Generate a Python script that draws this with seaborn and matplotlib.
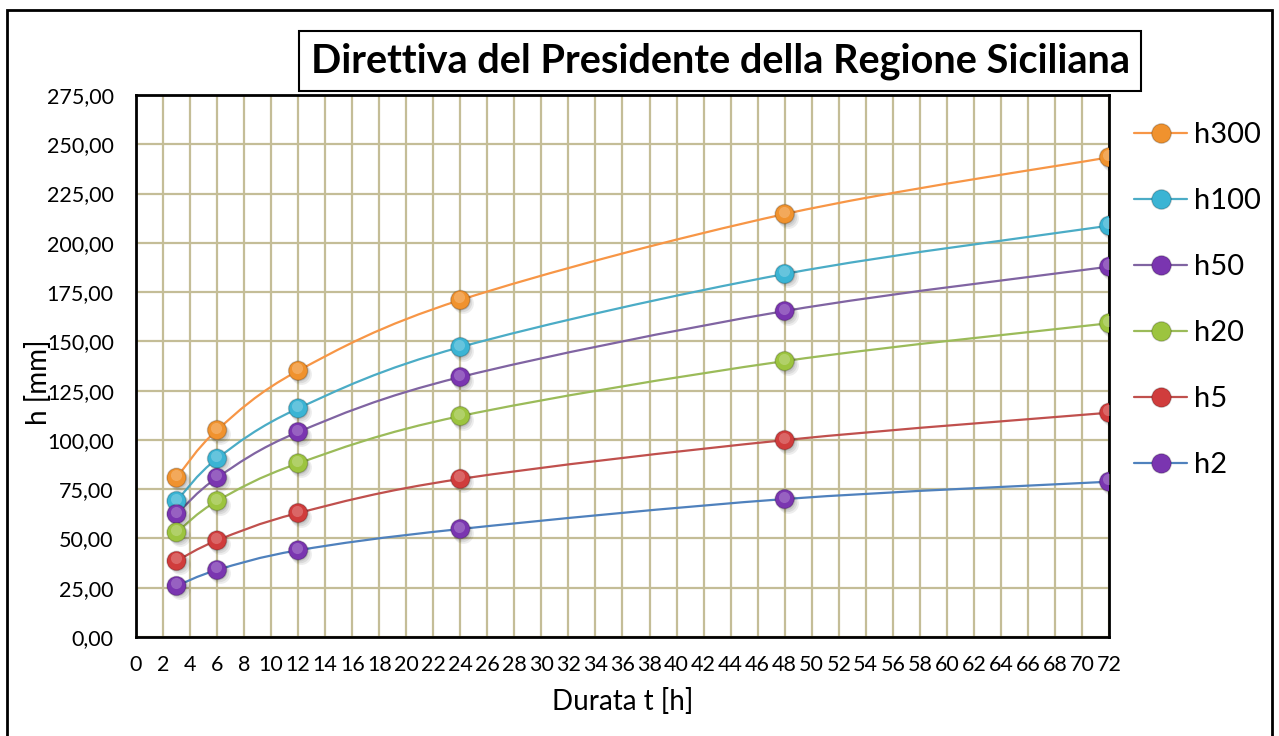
import numpy as np
import pandas as pd
import seaborn as sns
import matplotlib.pyplot as plt
from matplotlib.path import Path
from matplotlib.patches import PathPatch, Rectangle
from matplotlib.lines import Line2D
from matplotlib.ticker import FuncFormatter, MultipleLocator
from matplotlib.transforms import offset_copy

# durate [h] e altezze di pioggia [mm] per tempo di ritorno
durata = [3, 6, 12, 24, 48, 72]
h300 = [80.8, 105.0, 135.1, 171.0, 214.6, 243.4]
h100 = [69.0, 90.5, 116.0, 147.1, 184.2, 208.7]
h50 = [62.4, 80.8, 104.0, 131.9, 165.4, 187.9]
h20 = [53.1, 69.0, 88.1, 112.1, 140.0, 159.2]
h5 = [38.6, 49.0, 62.9, 80.2, 99.9, 113.8]
h2 = [25.9, 34.0, 44.0, 54.8, 70.0, 78.8]

serie = ['h300', 'h100', 'h50', 'h20', 'h5', 'h2']
valori = [h300, h100, h50, h20, h5, h2]
col_linea = ['#F79646', '#4BACC6', '#8064A2', '#9BBB59', '#C0504D', '#4F81BD']
col_marker = ['#F0922E', '#3BB4D4', '#7A35B0', '#9CC43F', '#D03C3C', '#7A35B0']

df = pd.DataFrame({'t': durata * len(serie),
                   'h': sum(valori, []),
                   'serie': [s for s in serie for _ in durata]})

sns.set_theme(style='white')
plt.rcParams['font.family'] = ['Lato', 'DejaVu Sans']
plt.rcParams['text.color'] = 'black'
plt.rcParams['axes.labelcolor'] = 'black'

fig = plt.figure(figsize=(12.79, 7.36), dpi=100)
ax = fig.add_axes([0.1063, 0.1345, 0.7608, 0.7364])

# linee smussate (stile Excel, bezier tipo Catmull-Rom)
def smooth_path(x, y):
    p = np.column_stack([x, y]).astype(float)
    verts = [p[0]]
    codes = [Path.MOVETO]
    n = len(p)
    for i in range(n - 1):
        p0 = p[i - 1] if i > 0 else p[i]
        p3 = p[i + 2] if i + 2 < n else p[i + 1]
        c1 = p[i] + (p[i + 1] - p0) / 6
        c2 = p[i + 1] - (p3 - p[i]) / 6
        verts += [c1, c2, p[i + 1]]
        codes += [Path.CURVE4] * 3
    return Path(verts, codes)

for s, v, cl in zip(serie, valori, col_linea):
    ax.add_patch(PathPatch(smooth_path(durata, v), facecolor='none',
                           edgecolor=cl, lw=1.6, zorder=3))

# marker "sfera": ombra sfumata, corpo, riflesso
for k, (dx, dy, a) in enumerate([(3, -3.5, 0.07), (2, -2.5, 0.08), (1, -1.5, 0.08)]):
    sh = offset_copy(ax.transData, fig=fig, x=dx, y=dy, units='dots')
    ax.plot(df['t'], df['h'], 'o', ms=15 - k, color='black', alpha=a, mec='none',
            transform=sh, zorder=4)
sns.scatterplot(data=df, x='t', y='h', hue='serie', hue_order=serie,
                palette=dict(zip(serie, col_marker)), s=190,
                edgecolor='#00000030', linewidth=1.0, legend=False,
                ax=ax, zorder=5)
glint = offset_copy(ax.transData, fig=fig, x=-1, y=2.5, units='dots')
ax.plot(df['t'], df['h'], 'o', ms=8, color='white', alpha=0.22, mec='none',
        transform=glint, zorder=6)

ax.set_xlim(0, 72)
ax.set_ylim(0, 275)
ax.xaxis.set_major_locator(MultipleLocator(2))
ax.yaxis.set_major_locator(MultipleLocator(25))
ax.yaxis.set_major_formatter(FuncFormatter(lambda v, p: f'{v:.2f}'.replace('.', ',')))
ax.grid(True, color='#C4BD97', lw=1.6)
ax.set_axisbelow(True)
for sp in ax.spines.values():
    sp.set_color('black')
    sp.set_linewidth(2)
ax.tick_params(axis='both', labelsize=15.5, length=0, colors='black')
ax.tick_params(axis='x', pad=13)
ax.tick_params(axis='y', pad=16)
ax.set_xlabel('Durata t [h]', fontsize=20, labelpad=9)
ax.set_ylabel('h [mm]', fontsize=20)
ax.yaxis.set_label_coords(-0.086, 0.47)

handles = [Line2D([0], [0], color=cl, lw=1.6, marker='o', ms=14,
                  mfc=cm, mec='#00000030') for cl, cm in zip(col_linea, col_marker)]
fig.legend(handles, serie, loc='upper left', bbox_to_anchor=(0.887, 0.834),
           frameon=False, fontsize=21, labelspacing=1.37, handlelength=1.8,
           handletextpad=0.25, borderpad=0, borderaxespad=0)

fig.text(0.563, 0.917, 'Direttiva del Presidente della Regione Siciliana',
         ha='center', va='center', fontsize=28.5, fontweight='bold',
         bbox=dict(boxstyle='square,pad=0.28', fc='white', ec='black', lw=1.5))

fig.patches.append(Rectangle((7 / 1279, -0.01), 1265 / 1279, 0.9964,
                             transform=fig.transFigure, fill=False,
                             ec='black', lw=2))

fig.savefig('out.png', dpi=100)
